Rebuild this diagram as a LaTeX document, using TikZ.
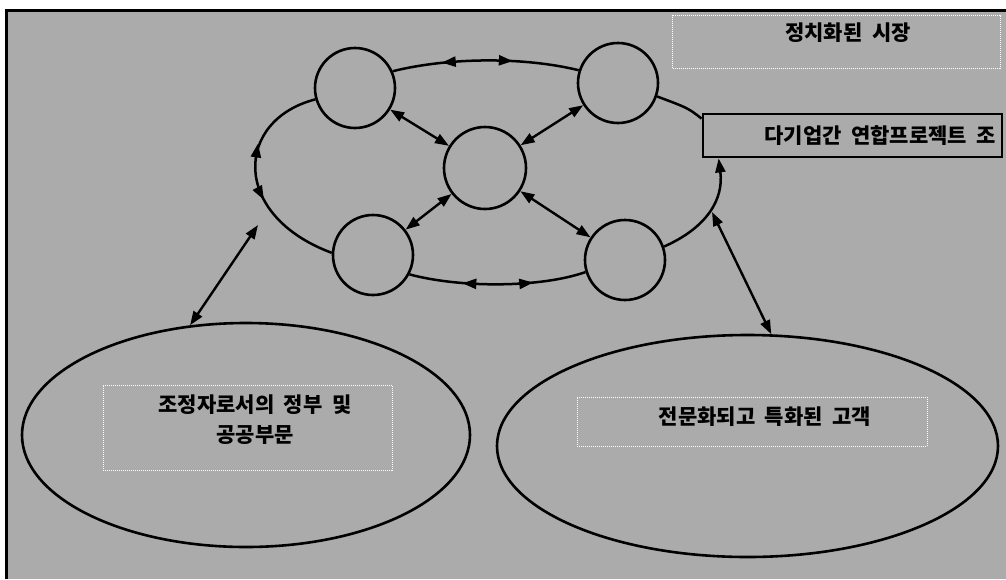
\documentclass[tikz,border=0pt]{standalone}
\usepackage{fontspec}
\newfontfamily\kr{Noto Sans CJK KR}
\newcommand\wsp{\hspace{0.45em}}
\usetikzlibrary{arrows.meta,shapes.geometric,decorations.markings}
\definecolor{bg}{gray}{0.67}
\begin{document}
\begin{tikzpicture}[x=1pt,y=1pt,
  font=\kr\bfseries\fontsize{21}{30}\selectfont,
  >={Triangle[length=14pt,width=10pt]},
  circ/.style={circle,draw,line width=2.6pt,fill=bg,minimum size=80pt,inner sep=0pt},
  bigell/.style={ellipse,draw,line width=2.6pt,fill=bg,inner sep=0pt},
  tbox/.style={rectangle,draw=white,densely dotted,line width=1pt,inner sep=0pt},
  link/.style={line width=2.5pt},
  dbl/.style={line width=2.4pt,<->},
  midarr/.style 2 args={postaction={decorate},decoration={markings,
      mark=at position #1 with {\arrow{<}},
      mark=at position #2 with {\arrow{>}}}}
]
\useasboundingbox (0,0) rectangle (1006,-579);
% background and frame
\fill[bg] (6,-10) rectangle (1006,-579);
\draw[line width=3pt] (6,-579) -- (6,-10) -- (1006,-10);

% title box
\node[tbox,minimum width=328pt,minimum height=53pt,anchor=north west] (mkt) at (672,-15) {};
\node[inner sep=0pt] (mkttext) at (848,-33) {정치화된\wsp 시장};

% network circles
\node[circ] (TL) at (355,-88) {};
\node[circ] (TR) at (618,-83) {};
\node[circ,minimum size=82pt] (C) at (485,-168) {};
\node[circ] (BL) at (373,-255) {};
\node[circ] (BR) at (625,-260) {};

% project box
\node[draw,line width=2.8pt,fill=bg,minimum width=299pt,minimum height=43pt,
      text width=287pt,inner sep=6pt,align=right] (proj) at (852.5,-135.5)
      {다기업간\wsp 연합프로젝트\wsp 조};

% outer ring segments
\draw[link,midarr={0.34}{0.645}] (TL.24) .. controls (450,-57) and (525,-57) .. (TR.162);
\draw[link,midarr={0.38}{0.70}] (BL.-28) .. controls (460,-288) and (540,-288) .. (BR.197);
\draw[link,midarr={0.40}{0.60}] (TL.196) .. controls (235,-120) and (230,-215) .. (BL.177);
\draw[link] (TR.-19) .. controls (688,-108) .. ([yshift=-6pt]proj.north west);
\draw[link,->] (BR.19) .. controls (706,-228) and (724,-200) .. ([xshift=17pt]proj.south west);

% spokes
\draw[dbl] (C) -- (TL);
\draw[dbl] (C) -- (TR);
\draw[dbl] (C) -- (BL);
\draw[dbl] (C) -- (BR);

% lower ellipses
\node[bigell,minimum width=448pt,minimum height=224pt] (L) at (246,-435) {};
\node[bigell,minimum width=501pt,minimum height=222pt] (R) at (747.5,-446) {};

\node[tbox,minimum width=289pt,minimum height=85pt] (lbox) at (247.5,-427.5) {};
\node[align=center,inner sep=0pt] (ltext) at (255,-420) {조정자로서의\wsp 정부\wsp 및\\공공부문};

\node[tbox,minimum width=350pt,minimum height=49pt] (rbox) at (752,-421.5) {};
\node[inner sep=0pt] (rtext) at (765,-417) {전문화되고\wsp 특화된\wsp 고객};

% links to lower ellipses
\coordinate (la) at (258,-225);
\coordinate (ra) at (712,-212);
\draw[dbl] (la) -- (L.117);
\draw[dbl] (ra) -- (R.78);
\end{tikzpicture}
\end{document}
